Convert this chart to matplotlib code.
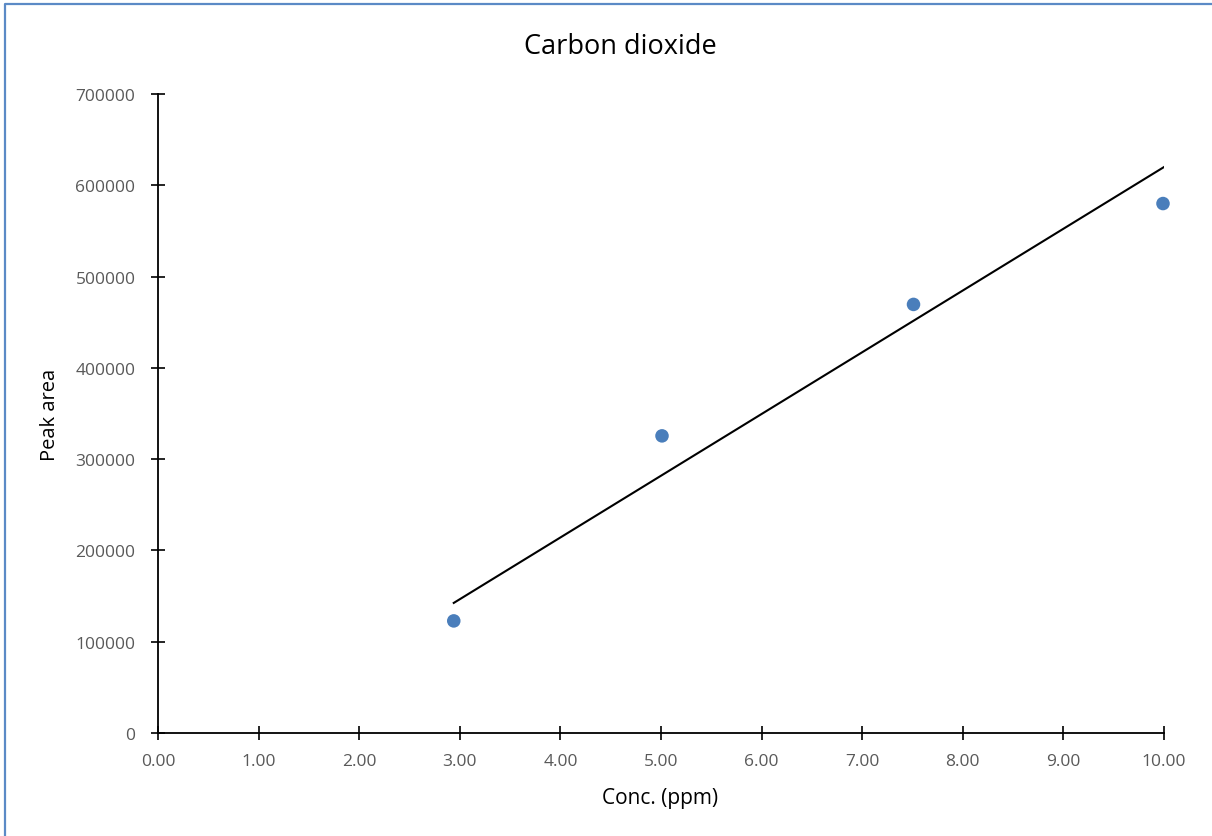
import matplotlib.pyplot as plt
from matplotlib.lines import Line2D

# Datos
conc = [2.94, 5.01, 7.51, 9.99]
peak_area = [122800, 325500, 469500, 580000]

# Linea de tendencia (extremos)
trend_x = [2.94, 10.0]
trend_y = [142500, 620000]

x_ticks = [0, 1, 2, 3, 4, 5, 6, 7, 8, 9, 10]
y_ticks = [0, 100000, 200000, 300000, 400000, 500000, 600000, 700000]

plt.rcParams['font.family'] = ['Open Sans', 'DejaVu Sans']

fig = plt.figure(figsize=(12.12, 8.37), dpi=100)
ax = fig.add_axes([158 / 1212, 1 - 734 / 837, (1164 - 158) / 1212, (734 - 95) / 837])

ax.plot(trend_x, trend_y, color='black', lw=1.5, zorder=2)
ax.scatter(conc, peak_area, s=95, color='#4A7EBB', edgecolors='none', zorder=3, clip_on=False)

ax.set_xlim(0, 10)
ax.set_ylim(0, 700000)
ax.set_xticks(x_ticks)
ax.set_xticklabels([f'{v:.2f}' for v in x_ticks])
ax.set_yticks(y_ticks)
ax.set_yticklabels([str(v) for v in y_ticks])

for s in ['top', 'right']:
    ax.spines[s].set_visible(False)
for s in ['left', 'bottom']:
    ax.spines[s].set_linewidth(1.3)
    ax.spines[s].set_color('black')

ax.tick_params(axis='both', direction='inout', length=10.5, width=1.2, color='black',
               labelcolor='#595959', labelsize=12.5)
ax.tick_params(axis='x', pad=9)
ax.tick_params(axis='y', pad=11)

fig.text(620 / 1212, 1 - 47 / 837, 'Carbon dioxide', ha='center', va='center', fontsize=19.5, color='black')
fig.text(50 / 1212, 1 - 415 / 837, 'Peak area', ha='center', va='center', rotation=90, fontsize=14.5)
fig.text(660 / 1212, 1 - 799 / 837, 'Conc. (ppm)', ha='center', va='center', fontsize=15)

# Borde del area del grafico (solo se ven arriba e izquierda)
fig.lines.append(Line2D([5 / 1212, 5 / 1212, 1], [0, 1 - 5 / 837, 1 - 5 / 837],
                        transform=fig.transFigure, color='#5B8AC6', lw=1.6))

fig.savefig('out.png', dpi=100)
